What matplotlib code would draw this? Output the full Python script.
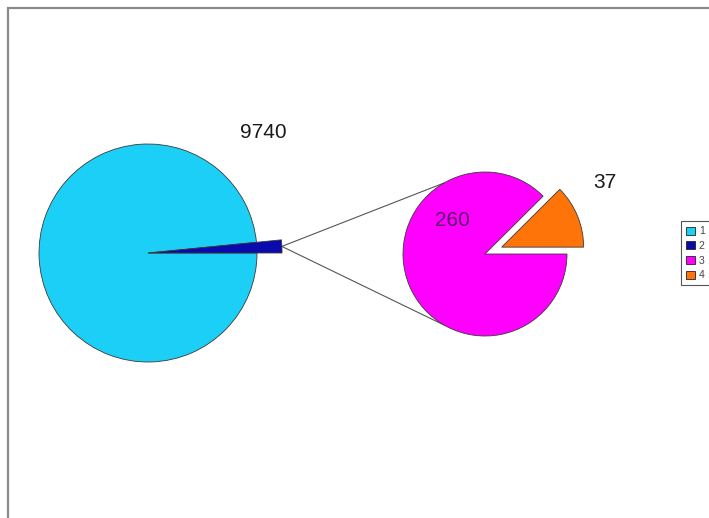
import matplotlib
matplotlib.use('Agg')
import matplotlib.pyplot as plt
from matplotlib.patches import Patch, Rectangle
import numpy as np

plt.rcParams['font.family'] = ['Liberation Sans', 'DejaVu Sans']

# main pie: first point plus the thin slice that gets split out
main_labels = ['1', '2']
main_values = [9740, 155]
# secondary pie
sub_labels = ['3', '4']
sub_values = [260, 37]

legend_labels = main_labels + sub_labels
colors = ['#1ccff6', '#0a0aae', '#ff00ff', '#ff7408']

W, H = 709, 518
fig = plt.figure(figsize=(W / 100, H / 100), dpi=100)
ax = fig.add_axes([0, 0, 1, 1])

edge = dict(edgecolor='#3a3a3a', linewidth=0.6)

# pixel layout, y pointing up; explode is an absolute offset in pie()
main_c, main_r = (148, H - 253), 109
sub_c, sub_r = (485, H - 254), 82
main_pull = 25      # thin slice sticks out past the rim
sub_explode = 18

main_wedges, _ = ax.pie(main_values, colors=colors[:2], center=main_c,
                        radius=main_r, startangle=0, counterclock=False,
                        wedgeprops=edge, frame=True)
main_wedges[1].set_radius(main_r + main_pull)
sub_wedges, _ = ax.pie(sub_values, colors=colors[2:], center=sub_c,
                       radius=sub_r, startangle=0, counterclock=False,
                       explode=[0, sub_explode], wedgeprops=edge, frame=True)

# connector lines from the thin slice to the secondary pie
w = main_wedges[1]
mid = np.deg2rad((w.theta1 + w.theta2) / 2)
tip = (w.center[0] + w.r * np.cos(mid), w.center[1] + w.r * np.sin(mid))
for ang in (120, 240):
    a = np.deg2rad(ang)
    end = (sub_c[0] + sub_r * np.cos(a), sub_c[1] + sub_r * np.sin(a))
    ax.plot([tip[0], end[0]], [tip[1], end[1]], color='#555555', lw=0.8,
            zorder=0)

# value labels
ax.text(263, H - 133, str(main_values[0]), fontsize=15, color='#1a1a1a',
        ha='center', va='center')
ax.text(452, H - 220, str(sub_values[0]), fontsize=15, color='#5c0c6c',
        ha='center', va='center')
ax.text(605, H - 182, str(sub_values[1]), fontsize=15, color='#1a1a1a',
        ha='center', va='center')

# chart border; only the left and top edges land on the canvas
ax.add_patch(Rectangle((8, -20), W + 40, H - 8 + 20, fill=False,
                       edgecolor='#8a8a8a', lw=1.6, zorder=0))

ax.set_xlim(0, W)
ax.set_ylim(0, H)
ax.set_aspect('auto')
ax.axis('off')

handles = [Patch(facecolor=c, edgecolor='#222222', lw=0.6) for c in colors]
leg = fig.legend(handles, legend_labels, loc='upper left',
                 bbox_to_anchor=(681 / W, 1 - 221 / H), fontsize=7.5,
                 handlelength=0.8, handleheight=0.8, handletextpad=0.4,
                 labelspacing=0.45, borderpad=0.5, fancybox=False,
                 framealpha=1, edgecolor='#555555', borderaxespad=0)
leg.get_frame().set_linewidth(0.8)
for t in leg.get_texts():
    t.set_color('#444444')

fig.savefig('out.png', dpi=100, facecolor='white')
